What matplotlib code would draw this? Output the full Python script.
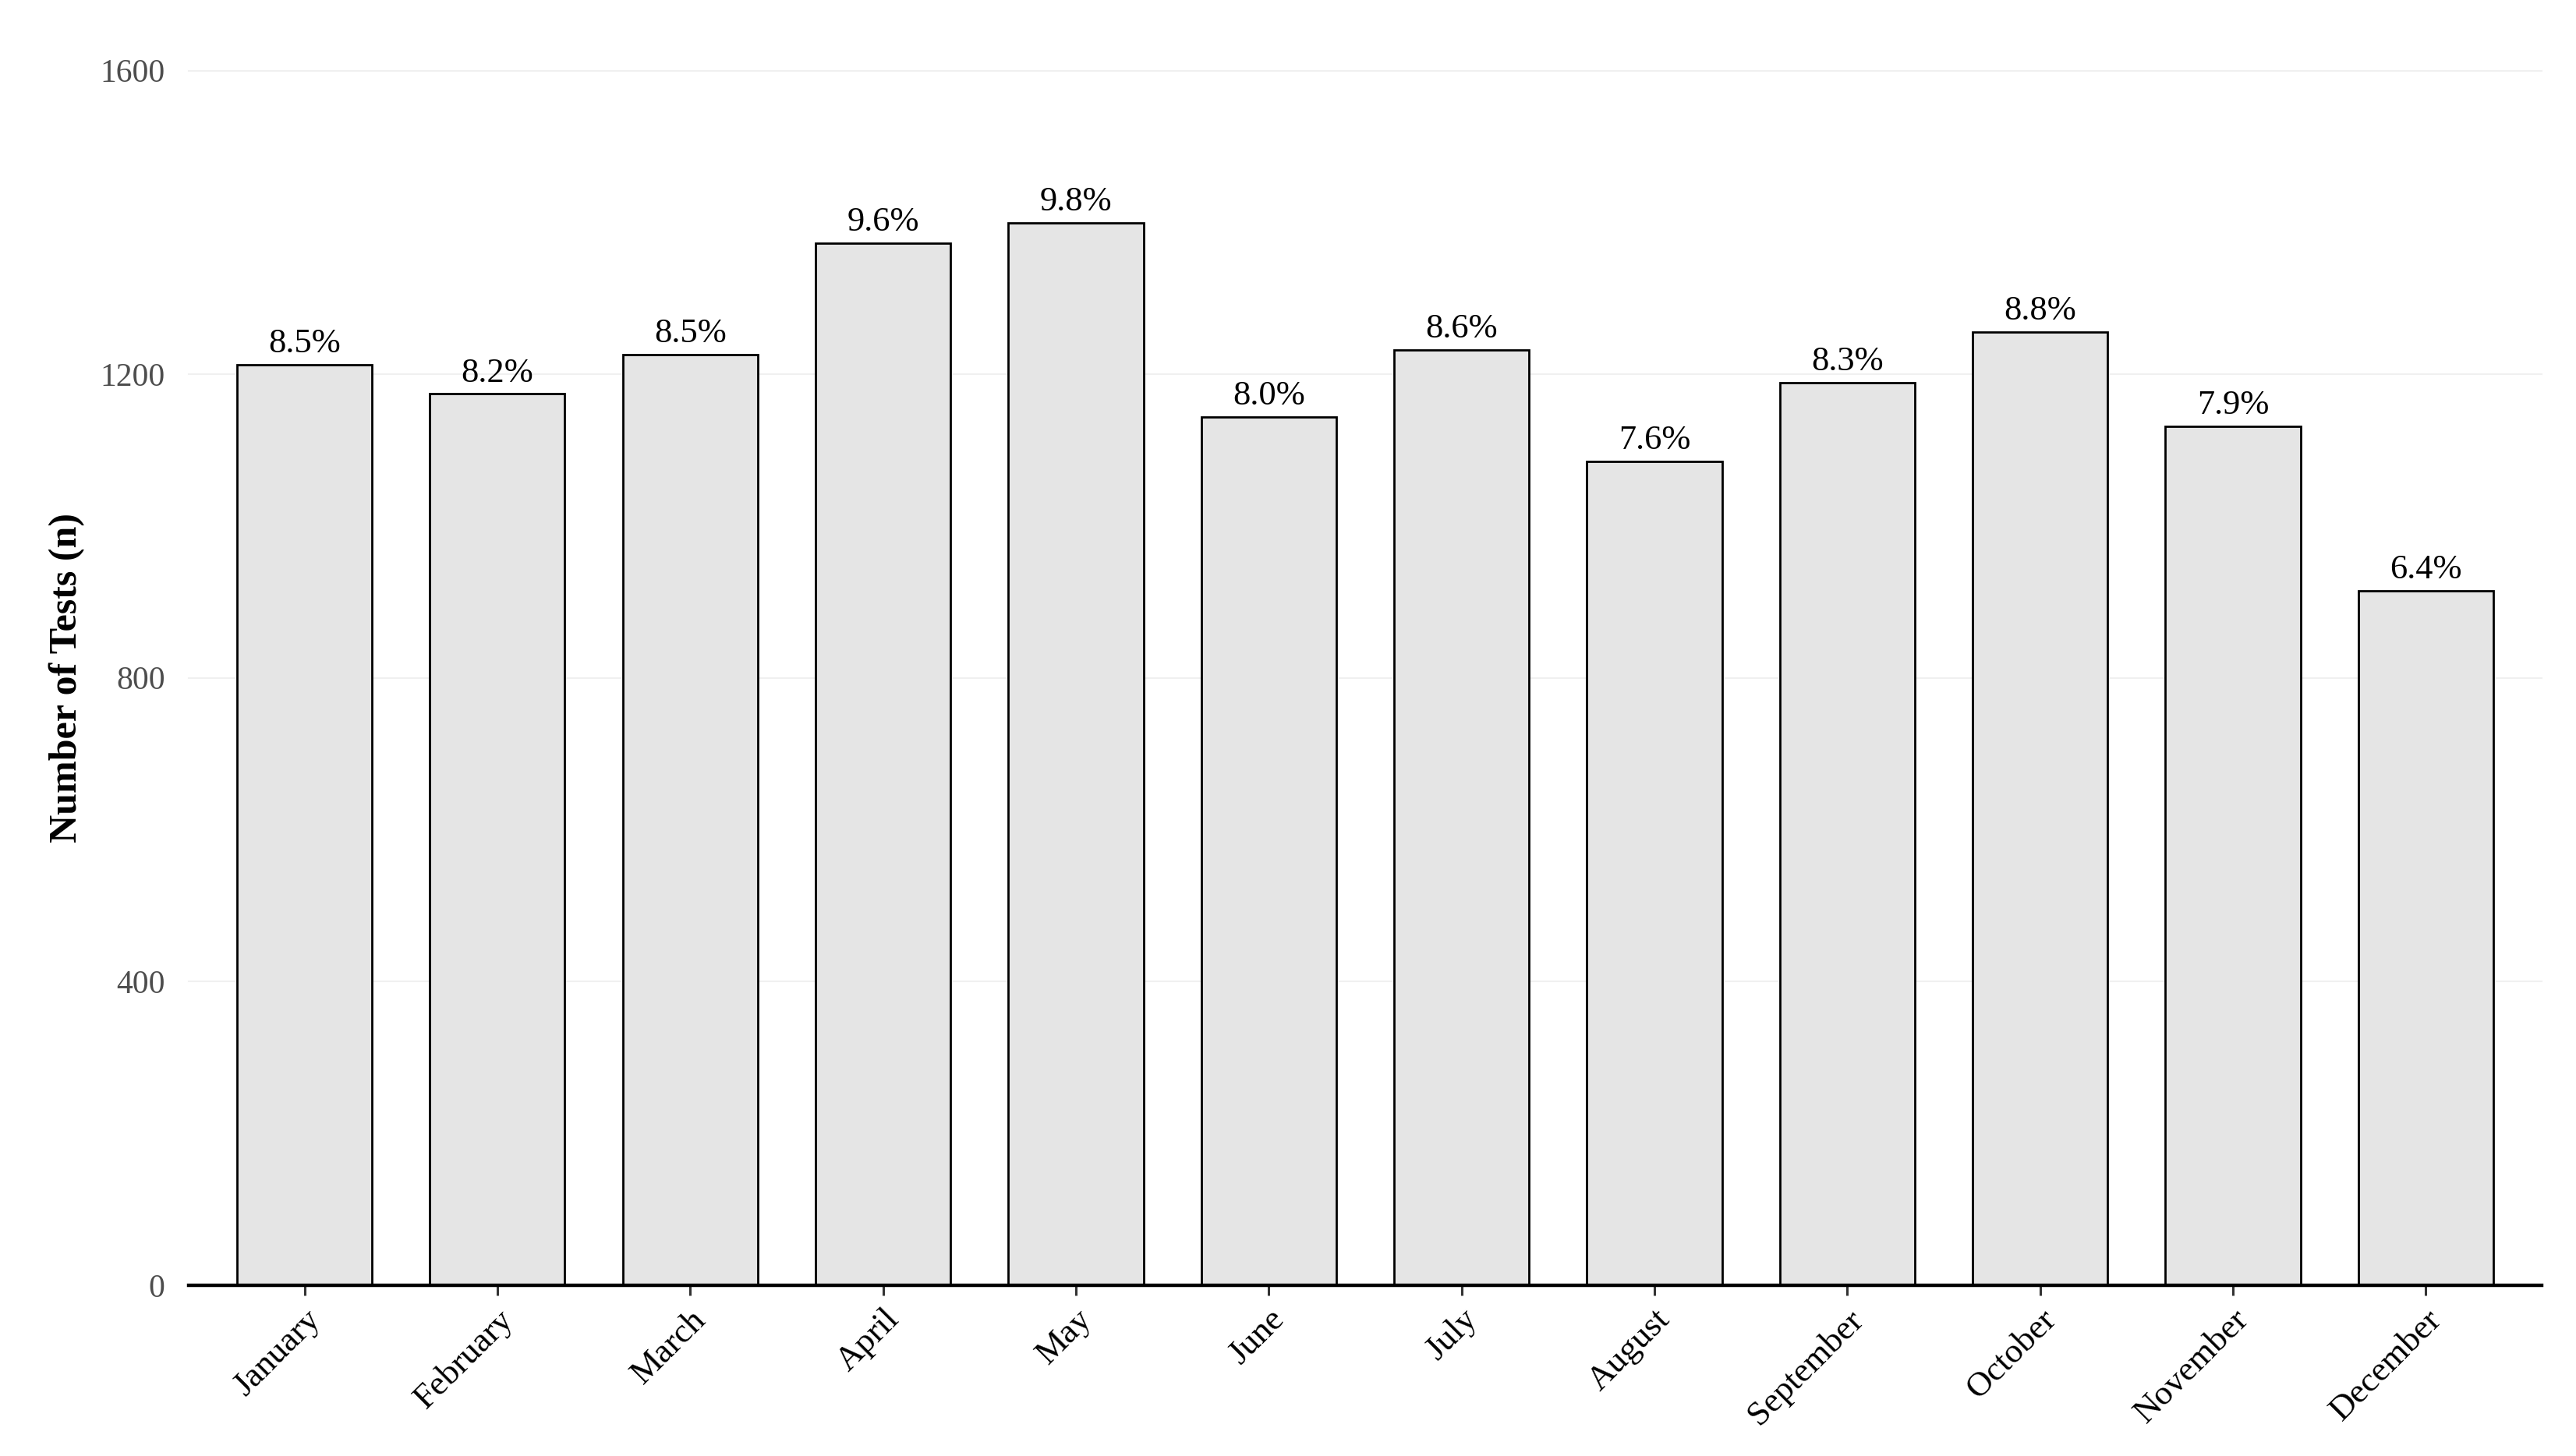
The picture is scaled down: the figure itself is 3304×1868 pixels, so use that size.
import matplotlib
matplotlib.use("Agg")
import matplotlib.pyplot as plt

months = ["January", "February", "March", "April", "May", "June", "July",
          "August", "September", "October", "November", "December"]
tests = [1213, 1174, 1226, 1373, 1399, 1144, 1232, 1085, 1189, 1256, 1131, 915]
pct_labels = ["8.5%", "8.2%", "8.5%", "9.6%", "9.8%", "8.0%", "8.6%",
              "7.6%", "8.3%", "8.8%", "7.9%", "6.4%"]
yticks = [0, 400, 800, 1200, 1600]

plt.rcParams['font.family'] = ['Liberation Serif', 'DejaVu Serif']

fig = plt.figure(figsize=(33.04, 18.68), dpi=100)
ax = fig.add_axes([0.0733, 0.1173, 0.9866 - 0.0733, 0.9515 - 0.1173])

x = list(range(len(months)))
bars = ax.bar(x, tests, width=0.7, color="#e5e5e5", edgecolor="black",
              linewidth=2.0, zorder=3)
for b, lab in zip(bars, pct_labels):
    ax.annotate(lab, (b.get_x() + b.get_width() / 2, b.get_height()),
                xytext=(0, 5), textcoords="offset points",
                ha="center", va="bottom", fontsize=32, color="black",
                annotation_clip=False)

ax.set_xlim(-0.6, 11.6)
ax.set_ylim(0, 1600)
ax.set_yticks(yticks)
ax.set_yticklabels([str(v) for v in yticks], fontsize=30, color="#4d4d4d")
ax.set_xticks(x)
ax.set_xticklabels(months, rotation=45, ha="right", rotation_mode="anchor",
                   fontsize=32, color="black")
ax.tick_params(axis="y", length=0, pad=22)
ax.tick_params(axis="x", length=9, width=2.2, color="#333333", pad=8)

ax.grid(axis="y", color="#f0f0f0", linewidth=1.5, zorder=0, clip_on=False)
ax.set_axisbelow(True)
for s in ["top", "right", "left"]:
    ax.spines[s].set_visible(False)
ax.spines["bottom"].set_linewidth(3.2)
ax.spines["bottom"].set_color("black")
ax.spines["bottom"].set_zorder(4)

ax.set_ylabel("Number of Tests (n)", fontsize=36, fontweight="bold", labelpad=14)

fig.savefig("out.png", dpi=100, facecolor="white")
